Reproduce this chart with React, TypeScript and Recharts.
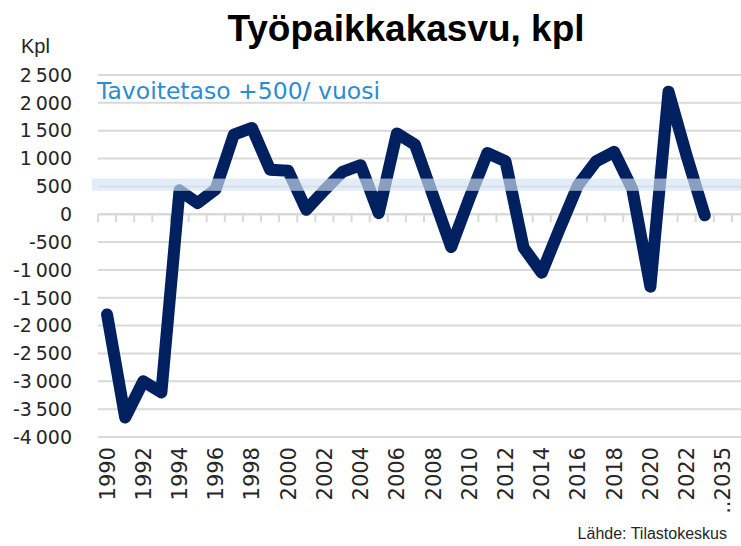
import React from 'react';
import {
  LineChart,
  Line,
  XAxis,
  YAxis,
  CartesianGrid,
  ReferenceArea,
  ReferenceLine,
} from 'recharts';

// vuodet 1990–2023, sitten tavoitejakso ja tyhjä sarake oikeassa reunassa
const years = [
  '1990', '1991', '1992', '1993', '1994', '1995', '1996', '1997', '1998', '1999',
  '2000', '2001', '2002', '2003', '2004', '2005', '2006', '2007', '2008', '2009',
  '2010', '2011', '2012', '2013', '2014', '2015', '2016', '2017', '2018', '2019',
  '2020', '2021', '2022', '2023',
];
const extraCategories = ['..2035', ''];

const jobGrowth = [
  -1800, -3650, -3000, -3200, 430, 200, 450, 1430, 1550, 800,
  780, 80, 430, 760, 880, 20, 1450, 1250, 330, -590,
  280, 1100, 950, -600, -1050, -250, 520, 950, 1120, 450,
  -1300, 2200, 1050, -20,
];

const yTicks = [2500, 2000, 1500, 1000, 500, 0, -500, -1000, -1500, -2000, -2500, -3000, -3500, -4000];
const targetBand = [420, 640];

const categories = [...years, ...extraCategories];
const data = categories.map((year, i) => ({
  year,
  kasvu: i < jobGrowth.length ? jobGrowth[i] : null,
}));

const NAVY = '#002060';
const GRID = '#D9D9D9';
const AXIS_FONT = '"DejaVu Sans", sans-serif';
const Y_W = 98;
const PLOT_W = 652;
const STEP = PLOT_W / categories.length;

const fmt = (v: number) => {
  const s = Math.abs(v).toString().replace(/\B(?=(\d{3})+(?!\d))/g, '\u202F');
  return (v < 0 ? '-' : '') + s;
};

const YearTick = (props: any) => {
  const { x, y, payload } = props;
  return (
    <text
      x={x}
      y={y}
      dy="0.36em"
      transform={`rotate(-90 ${x} ${y})`}
      textAnchor="end"
      fontSize={21}
      fontFamily={AXIS_FONT}
      fill="#262626"
    >
      {payload.value}
    </text>
  );
};

// nollaviiva + luokka-akselin väliviivat
const ZeroAxis = (props: any) => {
  const { y1 } = props;
  const marks = [];
  for (let k = 0; k <= categories.length; k++) {
    const tx = Y_W + k * STEP;
    marks.push(<line key={k} x1={tx} y1={y1} x2={tx} y2={y1 + 8} stroke={GRID} strokeWidth={2} />);
  }
  return (
    <g>
      <line x1={Y_W} y1={y1} x2={Y_W + PLOT_W} y2={y1} stroke={GRID} strokeWidth={2} />
      {marks}
    </g>
  );
};

const Band = (props: any) => {
  const { y, height } = props;
  return <rect x={Y_W - 6} y={y} width={PLOT_W + 6} height={height} fill="#D4E3F3" fillOpacity={0.65} />;
};

export default function App() {
  return (
    <div style={{ position: 'absolute', left: 0, top: 0, width: 741, height: 546, overflow: 'hidden', background: '#fff' }}>
      <LineChart
        width={Y_W + PLOT_W}
        height={546}
        data={data}
        margin={{ top: 75, right: 0, bottom: 0, left: 0 }}
      >
        <CartesianGrid horizontal vertical={false} stroke={GRID} strokeWidth={2} />
        <XAxis
          dataKey="year"
          interval={1}
          height={109}
          padding={{ left: STEP / 2, right: STEP / 2 }}
          axisLine={false}
          tickLine={false}
          tickSize={6}
          tickMargin={4}
          tick={<YearTick />}
        />
        <YAxis
          domain={[-4000, 2500]}
          ticks={yTicks}
          width={Y_W}
          axisLine={false}
          tickLine={false}
          tickMargin={20}
          tickFormatter={fmt}
          tick={{ fontSize: 19, fontFamily: AXIS_FONT, fill: '#262626' }}
        />
        <ReferenceLine y={0} shape={<ZeroAxis />} />
        <Line
          type="linear"
          dataKey="kasvu"
          stroke={NAVY}
          strokeWidth={12}
          strokeLinejoin="round"
          strokeLinecap="round"
          dot={false}
          isAnimationActive={false}
        />
        <ReferenceArea y1={targetBand[0]} y2={targetBand[1]} shape={<Band />} zIndex={450} />
      </LineChart>
      <svg
        width={741}
        height={546}
        style={{ position: 'absolute', left: 0, top: 0, pointerEvents: 'none' }}
      >
        <text x={406} y={41} textAnchor="middle" fontSize={37} fontWeight="bold" fontFamily='"Liberation Sans", Arial, sans-serif' fill="#000">
          Työpaikkakasvu, kpl
        </text>
        <text x={21} y={53} fontSize={20} fontFamily='"Liberation Sans", Arial, sans-serif' fill="#262626">
          Kpl
        </text>
        <text x={97} y={99} fontSize={23.5} fontFamily={AXIS_FONT} fill="#2B8CD6">
          Tavoitetaso +500/ vuosi
        </text>
        <text x={727} y={539} textAnchor="end" fontSize={16} fontFamily='"Liberation Sans", Arial, sans-serif' fill="#262626">
          Lähde: Tilastokeskus
        </text>
      </svg>
    </div>
  );
}
